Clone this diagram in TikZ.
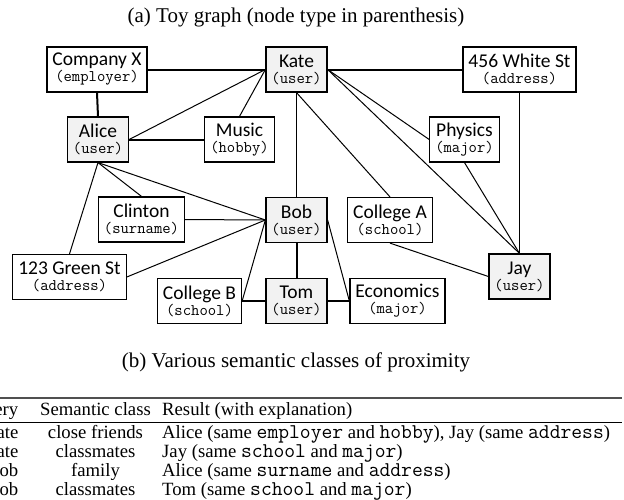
\documentclass[tikz,border=0pt]{standalone}
\usepackage{fontspec}
\setmainfont{Liberation Serif}
\newfontfamily\labelfont{Carlito}

\definecolor{usergray}{HTML}{F2F2F2}
\definecolor{rulegray}{HTML}{505050}

\def \labelsize {\fontsize{19.5}{16}\selectfont}
\def \typesize {\fontsize{16.2}{16}\selectfont}
\def \tablesize {\fontsize{18.7}{20}\selectfont}
\def \captionsize {\fontsize{21}{22}\selectfont}
\def \nodetext#1#2{#1\\{\ttfamily\typesize(#2)}}
\def \attr#1{{\ttfamily\fontsize{21}{20}\selectfont#1}}

\tikzset{
  entity/.style={draw, line width=1.2pt, fill=white, minimum height=45pt,
    inner xsep=5.5pt, inner ysep=0pt, align=center, font=\labelfont\labelsize},
  userent/.style={entity, fill=usergray},
  strongedge/.style={line width=2pt},
  weakedge/.style={line width=1pt},
  cell/.style={inner sep=0pt, font=\tablesize},
}

\begin{document}
\begin{tikzpicture}[x=1pt, y=-1pt]
\useasboundingbox (0,0) rectangle (624,499);
\clip (0,0) rectangle (624,499);

% (a) toy graph
\node[font=\captionsize, anchor=base] (capa) at (296,22.5) {(a) Toy graph (node type in parenthesis)};

\node[entity] (company) at (97,69.5) {\nodetext{Company X}{employer}};
\node[userent] (kate) at (296.5,69.5) {\nodetext{Kate}{user}};
\node[entity] (white) at (519.5,69.5) {\nodetext{456 White St}{address}};
\node[userent] (alice) at (98,139.5) {\nodetext{Alice}{user}};
\node[entity] (music) at (239.5,139.5) {\nodetext{Music}{hobby}};
\node[entity] (physics) at (464.5,139.5) {\nodetext{Physics}{major}};
\node[entity] (clinton) at (141.5,219.5) {\nodetext{Clinton}{surname}};
\node[userent] (bob) at (296.5,220) {\nodetext{Bob}{user}};
\node[entity] (collegea) at (390,220) {\nodetext{College A}{school}};
\node[entity] (green) at (69.5,277) {\nodetext{123 Green St}{address}};
\node[userent] (jay) at (519.5,276.5) {\nodetext{Jay}{user}};
\node[entity] (collegeb) at (199.5,301) {\nodetext{College B}{school}};
\node[userent] (tom) at (296.5,301) {\nodetext{Tom}{user}};
\node[entity] (econ) at (397.5,301) {\nodetext{Economics}{major}};

% strong ties
\draw[strongedge] (company.east) -- (kate.west);
\draw[strongedge] (company.south) -- (alice.north);
\draw[strongedge] (alice.east) -- (music.west);
\draw[strongedge] (kate.east) -- (white.west);
\draw[strongedge] (bob.south) -- (tom.north);
\draw[strongedge] (collegeb.east) -- (tom.west);
\draw[strongedge] (tom.east) -- (econ.west);

% weak ties
\draw[weakedge] (kate.west) -- (alice.east);
\draw[weakedge] (kate.west) -- (music.north);
\draw[weakedge] (kate.south) -- (bob.north);
\draw[weakedge] (kate.south) -- (collegea.north);
\draw[weakedge] (kate.east) -- (physics.west);
\draw[weakedge] (kate.east) -- (jay.north);
\draw[weakedge] (physics.south) -- (jay.north);
\draw[weakedge] (white.south) -- (jay.north);
\draw[weakedge] (collegea.south) -- (jay.west);
\draw[weakedge] (alice.south) -- (green.north);
\draw[weakedge] (alice.south) -- (clinton.north);
\draw[weakedge] (alice.south) -- (bob.west);
\draw[weakedge] (clinton.east) -- (bob.west);
\draw[weakedge] (green.east) -- (bob.west);
\draw[weakedge] (collegeb.east) -- (bob.west);
\draw[weakedge] (bob.east) -- (econ.west);

% (b) table
\node[font=\captionsize, anchor=base] (capb) at (296,367) {(b) Various semantic classes of proximity};
\draw[line width=1.3pt, rulegray] (-60,398) -- (622,398); % top rule
\draw[line width=0.8pt] (-60,422) -- (622,422); % mid rule

\node[cell, anchor=base east] (hquery) at (18.5,415) {Query};
\node[cell, anchor=base] (hclass) at (95.5,415) {Semantic class};
\node[cell, anchor=base west] (hresult) at (162,415) {Result (with explanation)};

\node[cell, anchor=base east] (qa) at (18.5,438) {Kate};
\node[cell, anchor=base] (ca) at (95.5,438) {close friends};
\node[cell, anchor=base west] (ra) at (162,438) {Alice (same \attr{employer} and \attr{hobby}), Jay (same \attr{address})};

\node[cell, anchor=base east] (qb) at (18.5,457) {Kate};
\node[cell, anchor=base] (cb) at (95.5,457) {classmates};
\node[cell, anchor=base west] (rb) at (162,457) {Jay (same \attr{school} and \attr{major})};

\node[cell, anchor=base east] (qc) at (18.5,476) {Bob};
\node[cell, anchor=base] (cc) at (95.5,476) {family};
\node[cell, anchor=base west] (rc) at (162,476) {Alice (same \attr{surname} and \attr{address})};

\node[cell, anchor=base east] (qd) at (18.5,495) {Bob};
\node[cell, anchor=base] (cd) at (95.5,495) {classmates};
\node[cell, anchor=base west] (rd) at (162,495) {Tom (same \attr{school} and \attr{major})};
\end{tikzpicture}
\end{document}
